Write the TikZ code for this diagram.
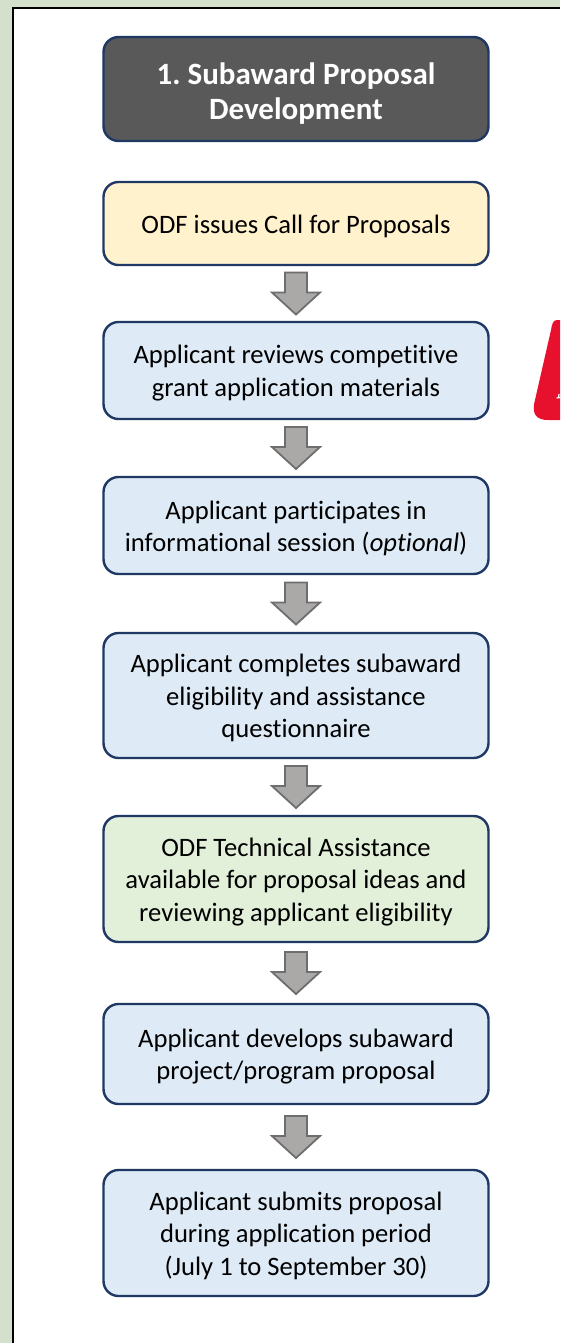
\documentclass[tikz,border=0pt]{standalone}
\usepackage{fontspec}
\setmainfont{Carlito}[Ligatures=NoCommon]
\usetikzlibrary{calc}
\frenchspacing
\definecolor{sage}{HTML}{D5E0CC}
\definecolor{navy}{HTML}{1F3864}
\definecolor{hdrgray}{HTML}{595959}
\definecolor{ylw}{HTML}{FFF2CC}
\definecolor{lblue}{HTML}{DEEAF6}
\definecolor{lgreen}{HTML}{E2EFD9}
\definecolor{arrfill}{HTML}{ABA8A8}
\definecolor{arredge}{HTML}{6E6E6E}
\definecolor{redmark}{HTML}{E8112D}
\tikzset{
  stepbox/.style={draw=navy, line width=2.4pt, rounded corners=15pt,
    minimum width=385pt, align=center, inner sep=0pt,
    font=\fontsize{26.6}{32.5}\selectfont, text=black},
  hdrbox/.style={stepbox, fill=hdrgray, text=white,
    font=\fontsize{31}{35}\selectfont\bfseries},
  bluebox/.style={stepbox, fill=lblue},
  yellowbox/.style={stepbox, fill=ylw},
  greenbox/.style={stepbox, fill=lgreen},
  blockarr/.style={fill=arrfill, draw=arredge, line width=1.8pt, line join=miter}
}
\newcommand{\blockarrow}[2]{%
  \begin{scope}[shift={($(#1.south)!0.5!(#2.north)$)}]
    \draw[blockarr] (-11,-21) -- (11,-21) -- (11,-1) -- (24,-1) -- (0,21) -- (-24,-1) -- (-11,-1) -- cycle;
  \end{scope}}
\begin{document}
\begin{tikzpicture}[x=1pt,y=-1pt]
\path[use as bounding box] (0,0) rectangle (560,1343);
\clip (0,0) rectangle (560,1343);
\fill[sage] (0,0) rectangle (560,1343);
\fill[white] (13,8) rectangle (560,1343);
\draw[black, line width=2pt] (13,1343) -- (13,8) -- (560,8);
% red mark
\fill[redmark] (560,320) -- (557,320) .. controls (553,320) and (552,324) .. (551,330)
  -- (535,400) .. controls (531,415) and (537,420) .. (548,420) -- (560,420) -- cycle;
\draw[white, line width=1.2pt] (556.5,398) -- (560,397.5);
\draw[white, line width=1.2pt] (558.5,398) -- (559,394);
% boxes
\node[hdrbox, minimum height=104pt] (h) at (296,89) {\rule{0pt}{30pt}1. Subaward Proposal\\Development};
\node[yellowbox, minimum height=83pt] (b1) at (296,223.5) {\rule{0pt}{24pt}ODF issues Call for Proposals};
\node[bluebox, minimum height=97pt] (b2) at (296,370.5) {\rule{0pt}{24pt}Applicant reviews competitive\\grant application materials};
\node[bluebox, minimum height=97pt] (b3) at (296,525.5) {\rule{0pt}{24pt}Applicant participates in\\informational session (\textit{optional})};
\node[bluebox, minimum height=125pt] (b4) at (296,695.5) {\rule{0pt}{24pt}Applicant completes subaward\\eligibility and assistance\\questionnaire};
\node[greenbox, minimum height=126pt] (b5) at (296,879) {\rule{0pt}{24pt}ODF Technical Assistance\\available for proposal ideas and\\reviewing applicant eligibility};
\node[bluebox, minimum height=100pt] (b6) at (296,1054) {\rule{0pt}{24pt}Applicant develops subaward\\project/program proposal};
\node[bluebox, minimum height=126pt] (b7) at (296,1233) {\rule{0pt}{24pt}Applicant submits proposal\\during application period\\(July 1 to September 30)};
% arrows
\blockarrow{b1}{b2}
\blockarrow{b2}{b3}
\blockarrow{b3}{b4}
\blockarrow{b4}{b5}
\blockarrow{b5}{b6}
\blockarrow{b6}{b7}
\end{tikzpicture}
\end{document}
